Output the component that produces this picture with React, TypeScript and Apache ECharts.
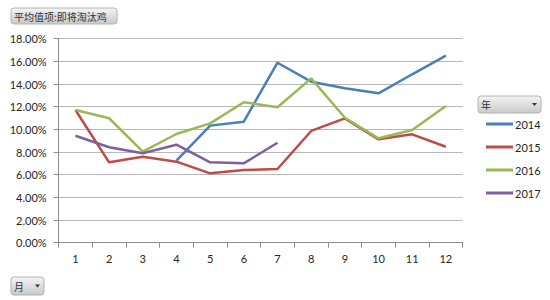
import React, { useEffect, useRef } from "react";
import * as echarts from "echarts";

const months = ["1", "2", "3", "4", "5", "6", "7", "8", "9", "10", "11", "12"];
const seriesNames = ["2014", "2015", "2016", "2017"];
const values2014 = [null, null, null, 7.25, 10.33, 10.68, 15.88, 14.21, 13.62, 13.18, 14.86, 16.5];
const values2015 = [11.71, 7.09, 7.59, 7.15, 6.12, 6.41, 6.5, 9.86, 10.97, 9.12, 9.56, 8.47];
const values2016 = [11.71, 10.98, 8.03, 9.59, 10.53, 12.39, 11.95, 14.5, 11.03, 9.21, 9.94, 12.06];
const values2017 = [9.44, 8.42, 7.89, 8.65, 7.09, 7.0, 8.82, null, null, null, null, null];
const colors = ["#4A7EBB", "#BE4B48", "#98B954", "#7D60A0"];
const titleText = "平均值项:即将淘汰鸡";
const legendTitle = "年";
const axisTitle = "月";

const btnFill = new echarts.graphic.LinearGradient(0, 0, 0, 1, [
  { offset: 0, color: "#f4f4f4" },
  { offset: 1, color: "#c9c9c9" },
]);

function button(x: number, y: number, w: number, h: number, label: string, arrow: boolean) {
  const children: any[] = [
    {
      type: "rect",
      shape: { x, y, width: w, height: h, r: 3 },
      style: { fill: btnFill, stroke: "#b4b4b4", lineWidth: 1 },
    },
    {
      type: "text",
      style: {
        x: x + 3,
        y: y + h / 2,
        text: label,
        fill: "#333",
        font: '10px "Noto Sans CJK SC"',
        verticalAlign: "middle",
      },
    },
  ];
  if (arrow) {
    children.push({
      type: "polygon",
      shape: {
        points: [
          [x + w - 9, y + h / 2 - 1.5],
          [x + w - 4, y + h / 2 - 1.5],
          [x + w - 6.5, y + h / 2 + 1.5],
        ],
      },
      style: { fill: "#333" },
    });
  }
  return { type: "group", children };
}

export default function App() {
  const ref = useRef<HTMLDivElement>(null);
  useEffect(() => {
    if (!ref.current) return;
    const chart = echarts.init(ref.current, null, { renderer: "svg" });
    const data = [values2014, values2015, values2016, values2017];
    chart.setOption({
      animation: false,
      backgroundColor: "#fff",
      color: colors,
      grid: { left: 58.6, right: 87.3, top: 38.7, bottom: 57.3, containLabel: false },
      legend: {
        orient: "vertical",
        left: 481,
        top: 112,
        icon: "rect",
        itemWidth: 27,
        itemHeight: 3,
        itemGap: 9,
        data: seriesNames,
        textStyle: {
          fontFamily: "Lato",
          fontSize: 11,
          color: "#262626",
          lineHeight: 14,
          padding: [0, 0, 0, -3],
        },
      },
      xAxis: {
        type: "category",
        data: months,
        boundaryGap: true,
        axisLine: { lineStyle: { color: "#8c8c8c", width: 1 } },
        axisTick: { show: true, length: 5, lineStyle: { color: "#8c8c8c" } },
        axisLabel: { fontFamily: "Lato", fontSize: 11, color: "#262626", margin: 10 },
        splitLine: { show: false },
      },
      yAxis: {
        type: "value",
        min: 0,
        max: 18,
        interval: 2,
        axisLine: { show: true, lineStyle: { color: "#8c8c8c", width: 1 } },
        axisTick: { show: true, length: 5, lineStyle: { color: "#8c8c8c" } },
        axisLabel: {
          fontFamily: "Lato",
          fontSize: 11,
          color: "#262626",
          margin: 12,
          formatter: (v: number) => v.toFixed(2) + "%",
        },
        splitLine: { lineStyle: { color: "#b8b8b8", width: 1 } },
      },
      series: seriesNames.map((name, i) => ({
        name,
        type: "line",
        data: data[i],
        showSymbol: false,
        symbol: "none",
        connectNulls: false,
        lineStyle: { width: 2.5, color: colors[i] },
        itemStyle: { color: colors[i] },
      })),
      graphic: [
        button(11, 8, 106, 16, titleText, false),
        button(478, 96, 63, 17, legendTitle, true),
        button(11, 277, 33, 18, axisTitle, true),
      ],
    });
    return () => chart.dispose();
  }, []);
  return (
    <div
      ref={ref}
      style={{ position: "fixed", left: 0, top: 0, width: 550, height: 300 }}
    />
  );
}
